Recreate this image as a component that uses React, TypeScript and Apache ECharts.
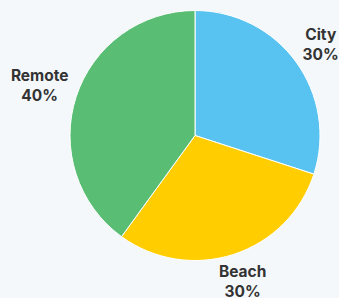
import React, { useEffect, useRef } from "react";
import * as echarts from "echarts";

const categories = ["City", "Beach", "Remote"];
const values = [30, 30, 40];
const colors = ["#58c2f0", "#ffcd00", "#59be74"];

const CX = 195;
const CY = 135.5;
const R = 125;
const LABEL_GAP = 133;

export default function App() {
  const ref = useRef<HTMLDivElement>(null);
  useEffect(() => {
    document.body.style.margin = "0";
    const chart = echarts.init(ref.current!, null, { renderer: "svg" });
    const total = values.reduce((a, b) => a + b, 0);
    const mids: number[] = [];
    let acc = 0;
    values.forEach((v) => {
      const mid = acc + v / 2;
      mids.push(mid / total);
      acc += v;
    });
    chart.setOption({
      animation: false,
      backgroundColor: "#f5f8fb",
      series: [
        {
          type: "pie",
          center: [CX, CY],
          radius: R,
          startAngle: 90,
          clockwise: true,
          avoidLabelOverlap: false,
          data: categories.map((c, i) => ({
            name: c,
            value: values[i],
            itemStyle: { color: colors[i] },
          })),
          itemStyle: { borderColor: "#ffffff", borderWidth: 1 },
          label: {
            show: true,
            position: "outside",
            alignTo: "none",
            overflow: "none",
            formatter: (p: any) => `${p.name}\n${p.percent}%`,
            fontFamily: "Inter",
            fontWeight: "bold",
            fontSize: 15.5,
            lineHeight: 20,
            color: "#333333",
            align: "center",
          },
          labelLine: { show: false },
          labelLayout: (p: any) => {
            const frac = mids[p.dataIndex];
            const ang = Math.PI / 2 - frac * 2 * Math.PI;
            const c = Math.cos(ang);
            const s = Math.sin(ang);
            const hw = p.labelRect.width / 2;
            const hh = p.labelRect.height / 2;
            const ext = Math.min(
              Math.abs(c) > 1e-6 ? hw / Math.abs(c) : Infinity,
              Math.abs(s) > 1e-6 ? hh / Math.abs(s) : Infinity
            );
            const d = LABEL_GAP + ext;
            const x = CX + d * c;
            const y = CY - d * s;
            return { x, y, align: "center", verticalAlign: "middle", hideOverlap: false };
          },
        },
      ],
    });
    return () => chart.dispose();
  }, []);
  return <div ref={ref} style={{ width: 339, height: 298 }} />;
}
